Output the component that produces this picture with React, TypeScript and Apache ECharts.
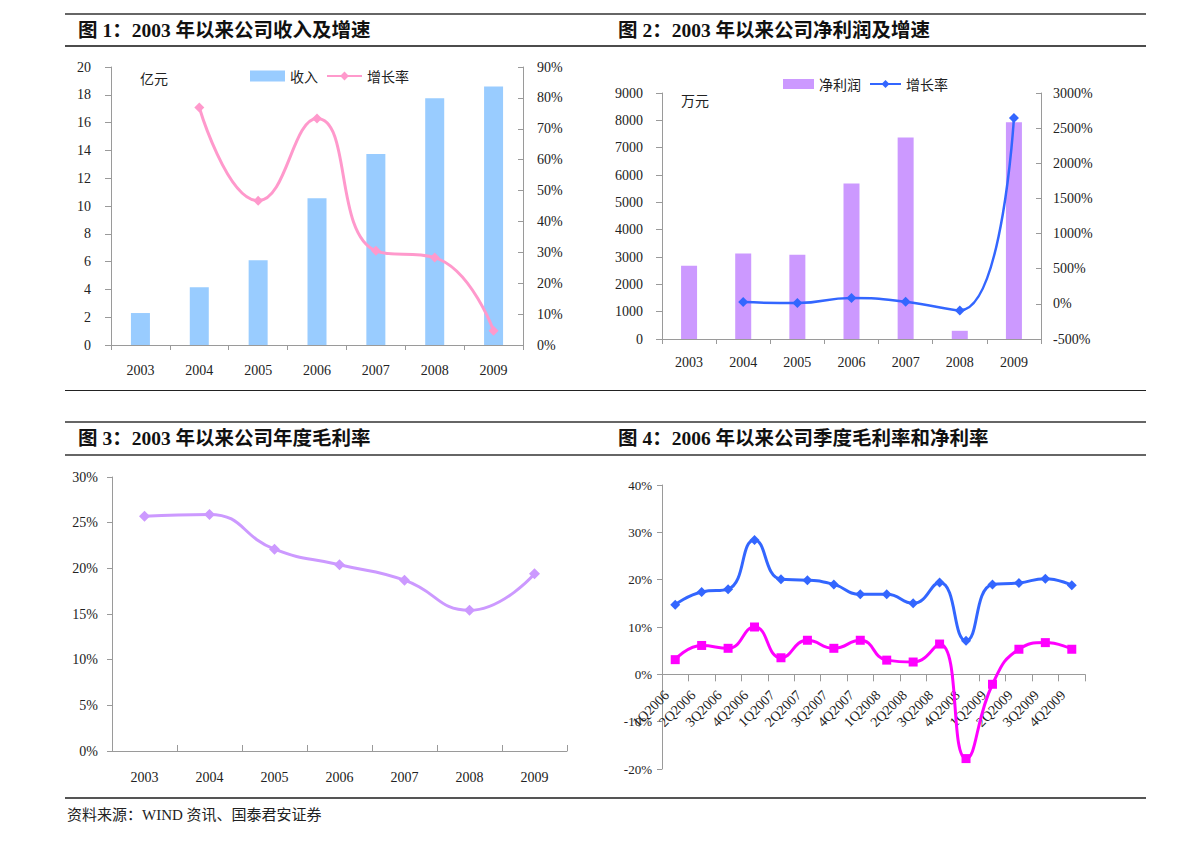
import React, { useEffect, useRef } from 'react';
import * as echarts from 'echarts';

const years = ['2003', '2004', '2005', '2006', '2007', '2008', '2009'];
const revenue = [2.3, 4.15, 6.1, 10.55, 13.75, 17.75, 18.6];
const revenueGrowth = [null, 76.9, 46.7, 73.3, 30.5, 28.3, 4.6];
const netProfit = [2680, 3130, 3080, 5690, 7370, 300, 7930];
const profitGrowth = [null, 25, 11, 82, 30, -93, 2645];
const grossMarginYear = [25.7, 25.9, 22.1, 20.4, 18.7, 15.4, 19.4];
const quarters = [
  '1Q2006', '2Q2006', '3Q2006', '4Q2006',
  '1Q2007', '2Q2007', '3Q2007', '4Q2007',
  '1Q2008', '2Q2008', '3Q2008', '4Q2008',
  '1Q2009', '2Q2009', '3Q2009', '4Q2009',
];
const grossMarginQ = [14.7, 17.4, 18.0, 28.4, 20.1, 19.9, 19.0, 16.9, 16.9, 15.0, 19.4, 7.1, 19.0, 19.3, 20.2, 18.8];
const netMarginQ = [3.1, 6.1, 5.5, 10.0, 3.5, 7.2, 5.5, 7.2, 3.0, 2.6, 6.4, -17.8, -2.1, 5.3, 6.7, 5.3];

const SERIF = '"Liberation Serif", "Noto Sans CJK SC", serif';
const CJK = '"Noto Sans CJK SC", sans-serif';
const TITLE_FONT = '"Liberation Serif", "Noto Sans CJK SC", serif';
const AXIS_COLOR = '#9a9a9a';
const LABEL_COLOR = '#222';

const plain = (v: number) => String(v);
const pct = (v: number) => `${v}%`;

function hline(x1: number, x2: number, y: number, color: string, w: number) {
  return { type: 'line', silent: true, shape: { x1, y1: y, x2, y2: y }, style: { stroke: color, lineWidth: w } };
}
function title(text: string, x: number, y: number) {
  return {
    type: 'text', x, y,
    style: { text, fill: '#111', font: `bold 19.5px ${TITLE_FONT}`, verticalAlign: 'middle' },
  };
}
function txt(text: string, x: number, y: number, size: number, family = CJK) {
  return {
    type: 'text', x, y,
    style: { text, fill: LABEL_COLOR, font: `${size}px ${family}`, verticalAlign: 'middle' },
  };
}

const catAxisBase = (data: string[], extra: any = {}) => ({
  type: 'category',
  data,
  boundaryGap: true,
  axisLine: { show: true, lineStyle: { color: AXIS_COLOR, width: 1 } },
  axisTick: { show: true, length: 5, lineStyle: { color: AXIS_COLOR } },
  axisLabel: { color: LABEL_COLOR, fontFamily: SERIF, fontSize: 14, margin: 18 },
  splitLine: { show: false },
  ...extra,
});

const valAxisBase = (extra: any = {}) => ({
  type: 'value',
  axisLine: { show: true, lineStyle: { color: AXIS_COLOR, width: 1 } },
  axisTick: { show: true, length: 6, lineStyle: { color: AXIS_COLOR } },
  axisLabel: { color: LABEL_COLOR, fontFamily: SERIF, fontSize: 14, formatter: plain },
  splitLine: { show: false },
  ...extra,
});

// Panel A: chart 1 (page offset 0,0)
const optionA: any = {
  animation: false,
  backgroundColor: '#fff',
  graphic: [
    hline(65, 605, 14, '#666', 2),
    hline(65, 605, 46, '#111', 1.5),
    hline(65, 605, 390.5, '#222', 1),
    title('图 1：2003 年以来公司收入及增速', 78, 30),
    txt('亿元', 140, 78, 14),
  ],
  legend: {
    left: 245, top: 64, itemWidth: 35, itemHeight: 11, itemGap: 8,
    textStyle: { fontFamily: CJK, fontSize: 14, color: LABEL_COLOR },
    data: [{ name: '收入', icon: 'rect' }, { name: '增长率' }],
  },
  grid: { left: 111, top: 67, width: 412, height: 278 },
  xAxis: catAxisBase(years),
  yAxis: [
    valAxisBase({ min: 0, max: 20, interval: 2, axisLabel: { color: LABEL_COLOR, fontFamily: SERIF, fontSize: 14, margin: 20, formatter: plain } }),
    valAxisBase({
      min: 0, max: 90, interval: 10, position: 'right',
      axisTick: { show: true, inside: true, length: 5, lineStyle: { color: AXIS_COLOR } },
      axisLabel: { color: LABEL_COLOR, fontFamily: SERIF, fontSize: 14, margin: 14, formatter: pct },
    }),
  ],
  series: [
    { name: '收入', type: 'bar', data: revenue, barWidth: 19, itemStyle: { color: '#99CCFF' } },
    {
      name: '增长率', type: 'line', yAxisIndex: 1, data: revenueGrowth, smooth: 0.5,
      symbol: 'diamond', symbolSize: 10,
      lineStyle: { color: '#FF99CC', width: 3 }, itemStyle: { color: '#FF99CC' },
    },
  ],
};

// Panel B: chart 2 (page offset 605,0)
const optionB: any = {
  animation: false,
  backgroundColor: '#fff',
  graphic: [
    hline(0, 541, 14, '#666', 2),
    hline(0, 541, 46, '#111', 1.5),
    hline(0, 541, 390.5, '#222', 1),
    title('图 2：2003 年以来公司净利润及增速', 13, 30),
    txt('万元', 76, 100, 14),
  ],
  legend: {
    left: 173, top: 72, itemWidth: 31, itemHeight: 10, itemGap: 8,
    textStyle: { fontFamily: CJK, fontSize: 14, color: LABEL_COLOR },
    data: [{ name: '净利润', icon: 'rect' }, { name: '增长率' }],
  },
  grid: { left: 57, top: 93, width: 379, height: 246 },
  xAxis: catAxisBase(years, { axisLabel: { color: LABEL_COLOR, fontFamily: SERIF, fontSize: 14, margin: 16 } }),
  yAxis: [
    valAxisBase({ min: 0, max: 9000, interval: 1000, axisLabel: { color: LABEL_COLOR, fontFamily: SERIF, fontSize: 14, margin: 19, formatter: plain } }),
    valAxisBase({
      min: -500, max: 3000, interval: 500, position: 'right',
      axisTick: { show: true, inside: true, length: 5, lineStyle: { color: AXIS_COLOR } },
      axisLabel: { color: LABEL_COLOR, fontFamily: SERIF, fontSize: 14, margin: 12, formatter: pct },
    }),
  ],
  series: [
    { name: '净利润', type: 'bar', data: netProfit, barWidth: 16, itemStyle: { color: '#CC99FF' } },
    {
      name: '增长率', type: 'line', yAxisIndex: 1, data: profitGrowth, smooth: 0.5,
      symbol: 'diamond', symbolSize: 10,
      lineStyle: { color: '#3366FF', width: 2.5 }, itemStyle: { color: '#3366FF' },
    },
  ],
};

// Panel C: chart 3 (page offset 0,400)
const optionC: any = {
  animation: false,
  backgroundColor: '#fff',
  graphic: [
    hline(65, 605, 22, '#666', 2),
    hline(65, 605, 55, '#666', 2),
    hline(65, 605, 398, '#555', 2),
    title('图 3：2003 年以来公司年度毛利率', 78, 38),
    txt('资料来源：WIND 资讯、国泰君安证券', 67, 415, 15, SERIF),
  ],
  grid: { left: 112, top: 77, width: 455, height: 274 },
  xAxis: catAxisBase(years, {
    axisTick: { show: true, inside: true, length: 6, lineStyle: { color: AXIS_COLOR } },
    axisLabel: { color: LABEL_COLOR, fontFamily: SERIF, fontSize: 14, margin: 19 },
  }),
  yAxis: valAxisBase({
    min: 0, max: 30, interval: 5,
    axisTick: { show: true, length: 5, lineStyle: { color: AXIS_COLOR } },
    axisLabel: { color: LABEL_COLOR, fontFamily: SERIF, fontSize: 14, margin: 14, formatter: pct },
  }),
  series: [
    {
      name: '毛利率', type: 'line', data: grossMarginYear, smooth: 0.5,
      symbol: 'diamond', symbolSize: 11,
      lineStyle: { color: '#CC99FF', width: 3 }, itemStyle: { color: '#CC99FF' },
    },
  ],
};

// Panel D: chart 4 (page offset 605,400)
const D_MIN = -20;
const D_MAX = 40;
const D_HEIGHT = 284;
const optionD: any = {
  animation: false,
  backgroundColor: '#fff',
  graphic: [
    hline(0, 541, 22, '#666', 2),
    hline(0, 541, 55, '#666', 2),
    hline(0, 541, 398, '#555', 2),
    title('图 4：2006 年以来公司季度毛利率和净利率', 13, 38),
  ],
  grid: { left: 57, top: 85, width: 423, height: D_HEIGHT },
  xAxis: catAxisBase(quarters, {
    offset: -((0 - D_MIN) / (D_MAX - D_MIN)) * D_HEIGHT,
    axisLine: { show: true, onZero: false, lineStyle: { color: AXIS_COLOR, width: 1 } },
    axisTick: { show: true, length: 7, lineStyle: { color: AXIS_COLOR } },
    axisLabel: {
      color: LABEL_COLOR, fontFamily: SERIF, fontSize: 14, margin: 10, rotate: 45, interval: 0,
      padding: [0, 12, 0, 0],
    },
  }),
  yAxis: valAxisBase({
    min: D_MIN, max: D_MAX, interval: 10,
    axisTick: { show: true, length: 5, lineStyle: { color: AXIS_COLOR } },
    axisLabel: { color: LABEL_COLOR, fontFamily: SERIF, fontSize: 13, margin: 10, formatter: pct },
  }),
  series: [
    {
      name: '毛利率', type: 'line', data: grossMarginQ, smooth: 0.5,
      symbol: 'diamond', symbolSize: 10,
      lineStyle: { color: '#3366FF', width: 3 }, itemStyle: { color: '#3366FF' },
    },
    {
      name: '净利率', type: 'line', data: netMarginQ, smooth: 0.5,
      symbol: 'rect', symbolSize: 9,
      lineStyle: { color: '#FF00FF', width: 3 }, itemStyle: { color: '#FF00FF' },
    },
  ],
};

function Panel({ left, top, width, height, option }: { left: number; top: number; width: number; height: number; option: any }) {
  const ref = useRef<HTMLDivElement>(null);
  useEffect(() => {
    if (!ref.current) return;
    const chart = echarts.init(ref.current, undefined, { renderer: 'svg' });
    chart.setOption(option);
    return () => chart.dispose();
  }, [option]);
  return <div ref={ref} style={{ position: 'absolute', left, top, width, height }} />;
}

export default function App() {
  return (
    <div style={{ position: 'absolute', left: 0, top: 0, width: 1191, height: 845, background: '#fff', overflow: 'hidden' }}>
      <Panel left={0} top={0} width={605} height={400} option={optionA} />
      <Panel left={605} top={0} width={586} height={400} option={optionB} />
      <Panel left={0} top={400} width={605} height={445} option={optionC} />
      <Panel left={605} top={400} width={586} height={445} option={optionD} />
    </div>
  );
}
